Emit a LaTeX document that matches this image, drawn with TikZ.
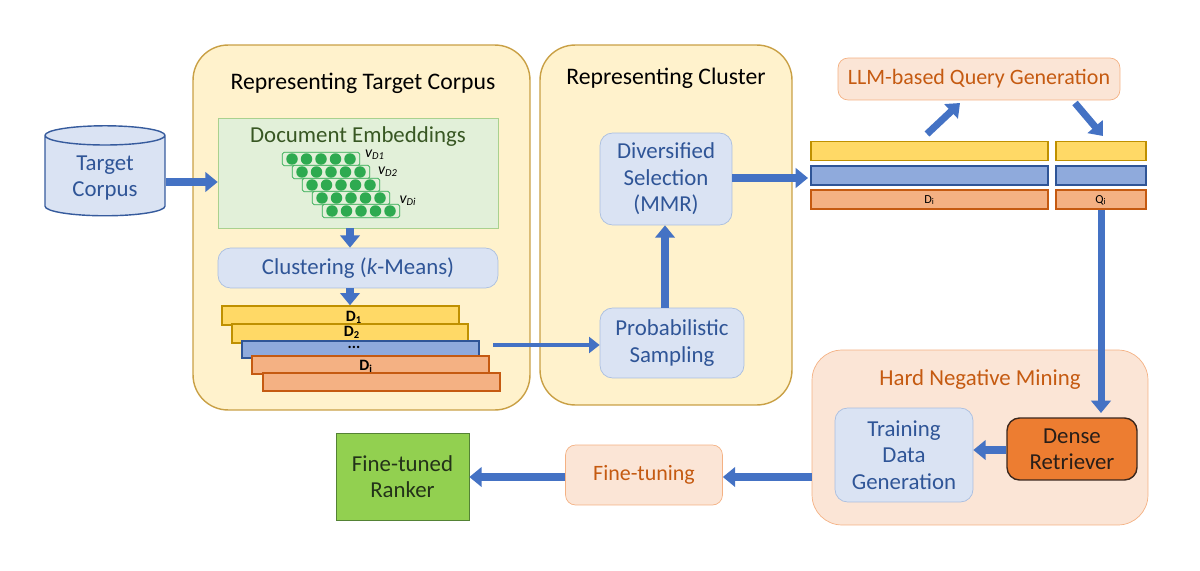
\documentclass[tikz,border=0pt]{standalone}
\usepackage{fontspec}
\setmainfont{Carlito}
\usetikzlibrary{shapes.geometric,arrows.meta}
\definecolor{bluetx}{HTML}{2F5597}
\definecolor{lblue}{HTML}{DAE3F3}
\definecolor{lbluebd}{HTML}{A9BEE0}
\definecolor{arr}{HTML}{4472C4}
\definecolor{cream}{HTML}{FFF2CC}
\definecolor{creambd}{HTML}{C9A045}
\definecolor{peach}{HTML}{FBE5D6}
\definecolor{peachbd}{HTML}{F4B183}
\definecolor{orangetx}{HTML}{C55A11}
\definecolor{yel}{HTML}{FFD966}
\definecolor{yelbd}{HTML}{BF9000}
\definecolor{mblue}{HTML}{8FAADC}
\definecolor{mbluebd}{HTML}{2F5597}
\definecolor{sal}{HTML}{F4B183}
\definecolor{salbd}{HTML}{C55A11}
\definecolor{dotg}{HTML}{2EAA50}
\definecolor{lgreen}{HTML}{E2F0D9}
\begin{document}
\begin{tikzpicture}[x=0.02cm,y=-0.02cm,
  big/.style={draw=creambd,fill=cream,rounded corners=0.7cm,line width=0.8pt},
  bluebox/.style={draw=lbluebd,fill=lblue,rounded corners=0.25cm,text=bluetx,font=\fontsize{13}{15}\selectfont,align=center},
  peachbox/.style={draw=peachbd,fill=peach,rounded corners=0.2cm,text=orangetx,font=\fontsize{12.5}{15}\selectfont,align=center},
  title/.style={font=\fontsize{13.5}{15}\selectfont,text=black},
  ar/.style={draw=arr,line width=4pt,-{Triangle[length=7pt,width=11pt]}},
  bar/.style={line width=0.8pt},
  lab/.style={font=\bfseries\fontsize{9}{9}\selectfont,inner sep=0pt}]
\useasboundingbox (0,0) rectangle (1200,571);
% cylinder
\node[cylinder,shape border rotate=90,aspect=0.25,draw=arr!80!black,fill=lblue,minimum width=2.4cm,minimum height=1.8cm,text=bluetx,font=\fontsize{13}{15}\selectfont,align=center,line width=0.8pt] (tc) at (105,178) {Target\\Corpus};
% big boxes
\node[big,minimum width=6.74cm,minimum height=7.3cm] (b1) at (361.5,227.5) {};
\node[title] (t1) at (363,83) {Representing Target Corpus};
\node[big,minimum width=5.04cm,minimum height=7.2cm] (b2) at (666,225) {};
\node[title] (t2) at (666,78) {Representing Cluster};
% embeddings
\node[fill=lgreen,minimum width=5.6cm,minimum height=2.2cm,draw={rgb,255:red,169;green,209;blue,142}] (emb) at (358,173) {};
\node[font=\fontsize{13}{15}\selectfont,text={rgb,255:red,56;green,87;blue,35}] (embt) at (358,137) {Document Embeddings};
\foreach \r in {0,...,4}{
  \node[draw=dotg,fill=lgreen,rounded corners=1pt,minimum width=1.55cm,minimum height=0.27cm,inner sep=0] (row\r) at (321+10*\r,159+13*\r) {};
  \foreach \c in {0,...,4}{\fill[dotg] (292+14.5*\c+10*\r,159+13*\r) circle (0.115cm);}
}
\node[font=\fontsize{9}{9}\selectfont\itshape,inner sep=0] (v1) at (375,155) {v\textsubscript{D1}};
\node[font=\fontsize{9}{9}\selectfont\itshape,inner sep=0] (v2) at (388,172) {v\textsubscript{D2}};
\node[font=\fontsize{9}{9}\selectfont\itshape,inner sep=0] (v3) at (408,201) {v\textsubscript{Di}};
\node[bluebox,minimum width=5.6cm,minimum height=0.8cm] (clu) at (358,268) {Clustering (\textit{k}-Means)};
\draw[ar] (emb.south -| 350,0) -- (clu.north -| 350,0);
% stack
\node[bar,draw=yelbd,fill=yel,minimum width=4.74cm,minimum height=0.38cm] (s1) at (340.5,315.5) {};
\node[bar,draw=yelbd,fill=yel,minimum width=4.72cm,minimum height=0.38cm] (s2) at (350,333.5) {};
\node[bar,draw=mbluebd,fill=mblue,minimum width=4.74cm,minimum height=0.34cm] (s3) at (360.5,349.5) {};
\node[bar,draw=salbd,fill=sal,minimum width=4.74cm,minimum height=0.36cm] (s4) at (370.5,365) {};
\node[bar,draw=salbd,fill=sal,minimum width=4.74cm,minimum height=0.36cm] (s5) at (381.5,382) {};
\node[lab] at (354,317) {D\textsubscript{1}};
\node[lab] at (352,332) {D\textsubscript{2}};
\node[lab] at (354,347) {...};
\node[lab] at (366,366) {D\textsubscript{i}};
\draw[ar] (clu.south -| 350,0) -- (s1.north -| 350,0);
% cluster boxes
\node[bluebox,minimum width=2.64cm,minimum height=1.84cm] (div) at (666,179) {Diversified\\Selection\\(MMR)};
\node[bluebox,minimum width=2.88cm,minimum height=1.4cm] (ps) at (672,343) {Probabilistic\\Sampling};
\draw[ar] (ps.north -| 665,0) -- (div.south -| 665,0);
\coordinate (sx) at (493,345);
\draw[draw=arr,line width=2.5pt,-{Triangle[length=6pt,width=9pt]}] (sx) -- (ps.west |- sx);
\draw[ar] (div.east |- 0,178) -- (808,178);
% LLM
\node[peachbox,minimum width=5.64cm,minimum height=0.84cm] (llm) at (979,79) {LLM-based Query Generation};
\foreach \i/\y/\f/\d in {1/151/yel/yelbd,2/175.5/mblue/mbluebd,3/199.5/sal/salbd}{
  \node[bar,draw=\d,fill=\f,minimum width=4.74cm,minimum height=0.38cm] (L\i) at (929.5,\y) {};
  \node[bar,draw=\d,fill=\f,minimum width=1.8cm,minimum height=0.38cm] (R\i) at (1101,\y) {};
}
\node[font=\fontsize{7}{7}\selectfont] at (929.5,200) {D\textsubscript{i}};
\node[font=\fontsize{7}{7}\selectfont] at (1101,200) {Q\textsubscript{i}};
\coordinate (a1) at (927,134); \coordinate (a2) at (960,103);
\coordinate (a3) at (1075,103); \coordinate (a4) at (1103,136);
\draw[ar] (a1) -- (a2);
\draw[ar] (a3) -- (a4);
% hard negative
\node[peachbox,rounded corners=0.6cm,minimum width=6.72cm,minimum height=3.5cm] (hnm) at (980,437.5) {};
\node[font=\fontsize{13}{15}\selectfont,text=orangetx] (hnt) at (980,380) {Hard Negative Mining};
\node[draw={rgb,255:red,60;green,40;blue,30},fill={rgb,255:red,237;green,125;blue,49},rounded corners=0.25cm,minimum width=2.6cm,minimum height=1.24cm,align=center,font=\fontsize{13}{15}\selectfont,text={rgb,255:red,40;green,30;blue,25},line width=0.8pt] (dr) at (1072,449) {Dense\\Retriever};
\coordinate (dtop) at (1101,413);
\draw[ar] (R3.south) -- (dtop);
\node[bluebox,minimum width=2.76cm,minimum height=1.88cm] (tdg) at (904,455) {Training\\Data\\Generation};
\draw[ar] (dr.west |- 0,450) -- (tdg.east |- 0,450);
\node[peachbox,minimum width=3.14cm,minimum height=1.2cm] (ft) at (644,475) {Fine-tuning};
\draw[ar] (hnm.west |- 0,477) -- (ft.east |- 0,477);
\node[draw={rgb,255:red,84;green,130;blue,53},fill={rgb,255:red,146;green,208;blue,80},minimum width=2.66cm,minimum height=1.74cm,align=center,font=\fontsize{13}{15}\selectfont,text={rgb,255:red,35;green,50;blue,25}] (rk) at (402.5,476.5) {Fine-tuned\\Ranker};
\draw[ar] (ft.west |- 0,477) -- (rk.east |- 0,477);
\draw[ar] (tc.east |- 0,182) -- (emb.west |- 0,182);
\end{tikzpicture}
\end{document}
